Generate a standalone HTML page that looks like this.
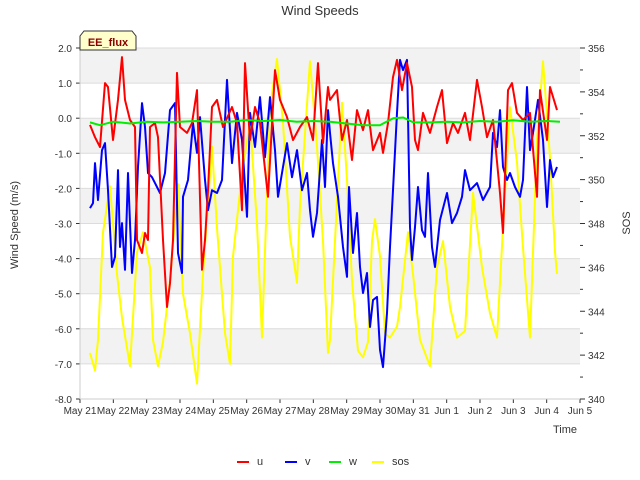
<!DOCTYPE html>
<html><head><meta charset="utf-8"><style>
body{margin:0;background:#fff;font-family:"Liberation Sans",sans-serif}
svg{display:block}
</style></head><body>
<svg id="c" width="640" height="480" font-family="Liberation Sans, sans-serif">
<g id="bands"></g><g id="axes"></g><g id="series"></g>
<text x="320" y="15" text-anchor="middle" font-size="13" fill="#333">Wind Speeds</text>
<text x="565" y="433" text-anchor="middle" font-size="11" fill="#333">Time</text>
<text transform="translate(18,225) rotate(-90)" text-anchor="middle" font-size="11" fill="#333">Wind Speed (m/s)</text>
<text transform="translate(630,223) rotate(-90)" text-anchor="middle" font-size="11" fill="#333">SOS</text>
<g>
<path d="M80,50 L80,36 L84,31 L132,31 L136,36 L136,50 Z" fill="#ffffcc" stroke="#333" stroke-width="1"/>
<text x="108" y="46" text-anchor="middle" font-size="11" font-weight="bold" fill="#8b0000">EE_flux</text>
</g>
<g id="legend" font-size="11" fill="#333"></g>
</svg>
<script>
const xTickLabels=["May 21","May 22","May 23","May 24","May 25","May 26","May 27","May 28","May 29","May 30","May 31","Jun 1","Jun 2","Jun 3","Jun 4","Jun 5"];
const yTicks=[2,1,0,-1,-2,-3,-4,-5,-6,-7,-8];
const y2Ticks=[340,342,344,346,348,350,352,354,356];
const uT=[.30,.45,.60,.75,.84,.99,1.14,1.26,1.35,1.50,1.65,1.71,1.86,1.95,2.04,2.10,2.25,2.34,2.49,2.61,2.70,2.79,2.91,3.00,3.21,3.36,3.51,3.66,3.75,3.84,3.96,4.11,4.29,4.56,4.71,4.86,4.95,5.10,5.25,5.40,5.64,5.85,6.00,6.21,6.39,6.60,6.81,6.99,7.14,7.29,7.44,7.50,7.71,7.86,8.01,8.16,8.31,8.49,8.64,8.79,9.00,9.09,9.24,9.39,9.51,9.66,9.81,9.96,10.05,10.14,10.29,10.50,10.71,10.86,11.01,11.19,11.34,11.55,11.70,11.91,12.06,12.21,12.39,12.60,12.69,12.84,12.96,13.11,13.29,13.50,13.71,13.80,14.01,14.10,14.31];
const uV=[-0.19,-0.54,-0.82,1.0,0.89,-0.62,0.52,1.74,0.52,-0.05,-0.25,-3.47,-3.84,-3.27,-3.47,-0.25,-0.14,-0.54,-3.47,-5.38,-4.70,-3.47,1.29,-0.25,-0.42,-0.14,0.8,-4.32,-3.47,-2.05,0.32,0.52,-0.25,0.32,-0.14,-2.62,1.57,-0.62,0.32,-0.14,-2.24,1.37,0.52,0.03,-0.62,-0.25,0.03,-0.62,1.57,-0.71,0.89,0.52,0.8,-0.62,-0.05,-1.19,0.23,-0.34,0.23,-0.91,-0.42,-0.99,-0.14,1.17,1.66,0.8,1.57,0.89,-0.62,-0.91,0.15,-0.42,0.32,0.8,-0.71,-0.14,-0.42,0.15,-0.62,1.09,0.32,-0.54,-0.05,-2.13,-3.27,0.8,1.0,0.15,-0.05,0.15,-2.24,0.8,-0.62,0.89,0.23];
const vT=[.30,.39,.45,.54,.66,.75,.84,.96,1.05,1.14,1.20,1.26,1.35,1.44,1.56,1.65,1.74,1.86,1.95,2.04,2.16,2.25,2.40,2.55,2.70,2.85,2.94,3.06,3.09,3.24,3.39,3.51,3.60,3.75,3.84,3.96,4.11,4.26,4.41,4.56,4.71,4.86,5.01,5.10,5.25,5.40,5.55,5.70,5.85,5.94,6.06,6.21,6.36,6.51,6.66,6.81,6.90,6.99,7.11,7.26,7.35,7.44,7.50,7.59,7.74,7.89,8.01,8.07,8.19,8.31,8.40,8.49,8.61,8.70,8.79,8.91,9.00,9.09,9.21,9.30,9.39,9.51,9.60,9.69,9.81,9.90,9.96,10.05,10.14,10.26,10.35,10.44,10.56,10.65,10.80,11.01,11.16,11.31,11.46,11.55,11.70,11.91,12.09,12.30,12.39,12.51,12.60,12.69,12.81,12.90,13.05,13.20,13.29,13.41,13.50,13.59,13.74,13.89,14.01,14.10,14.19,14.31];
const vV=[-2.56,-2.42,-1.28,-2.33,-0.91,-0.71,-2.05,-4.24,-3.95,-1.48,-3.67,-2.99,-4.32,-1.56,-4.41,-3.47,-1.39,0.43,-0.25,-1.56,-1.68,-1.85,-2.13,-1.56,0.23,0.43,-3.84,-4.41,-2.24,-1.76,-0.14,-0.99,0.03,-1.76,-2.62,-2.05,-2.13,-1.76,1.09,-1.28,0.15,-0.62,-2.81,0.15,-0.82,0.6,-1.11,0.6,-0.91,-2.24,-1.56,-0.71,-1.68,-0.91,-2.05,-1.56,-2.62,-3.38,-2.70,-0.62,-1.96,0.23,-0.42,-1.28,-2.24,-3.67,-4.52,-1.96,-3.84,-2.70,-4.24,-4.98,-4.41,-5.95,-5.18,-5.09,-6.60,-7.09,-5.55,-3.67,-2.05,0.15,1.66,1.37,1.66,-3.10,-4.04,-3.10,-1.96,-3.19,-3.38,-1.56,-3.67,-4.24,-2.90,-2.13,-2.99,-2.70,-2.24,-1.48,-2.05,-1.85,-2.33,-1.96,-0.42,-0.82,0.23,-1.39,-1.76,-1.56,-1.96,-2.24,-1.76,0.89,-0.91,-0.42,0.52,-0.62,-2.53,-1.19,-1.68,-1.39];
const wT=[.3,.6,1,1.5,2,2.5,3,3.5,4,4.5,5,5.5,6,6.5,7,7.5,8,8.5,9,9.4,9.7,10,10.5,11,11.5,12,12.5,13,13.5,14,14.4];
const wV=[-0.12,-0.2,-0.1,-0.15,-0.1,-0.12,-0.1,-0.08,-0.1,-0.1,-0.05,-0.08,-0.05,-0.1,-0.08,-0.1,-0.15,-0.2,-0.2,0.0,0.02,-0.12,-0.12,-0.1,-0.12,-0.08,-0.1,-0.06,-0.1,-0.08,-0.1];
const sT=[.30,.45,.54,.69,.90,1.11,1.26,1.50,1.71,1.89,2.10,2.19,2.34,2.49,2.70,2.94,3.09,3.30,3.51,3.69,3.96,4.11,4.35,4.50,4.59,4.86,5.10,5.31,5.46,5.70,5.91,6.09,6.30,6.51,6.60,6.90,7.11,7.29,7.44,7.50,7.65,7.86,8.01,8.16,8.34,8.49,8.64,8.76,8.85,9.00,9.15,9.30,9.51,9.60,9.84,9.99,10.20,10.50,10.71,10.89,11.10,11.31,11.55,11.79,12.06,12.30,12.51,12.69,12.90,13.11,13.29,13.50,13.71,13.89,14.10,14.25,14.31];
const sV=[342.1,341.3,342.7,347.6,349.7,345.7,343.7,341.5,346.7,347.6,346.0,342.7,341.5,342.6,345.4,349.8,344.8,343.0,340.7,345.7,351.5,347.8,343.0,341.6,346.5,350.3,352.6,348.0,342.8,353.3,355.5,352.6,347.4,345.3,348.8,355.4,351.5,347.2,342.1,342.7,347.2,353.5,350.0,345.4,342.2,341.9,342.6,347.2,348.2,346.5,343.0,342.8,343.3,344.2,347.6,345.7,342.7,341.5,346.0,347.2,344.2,342.8,343.1,349.4,346.0,343.9,342.8,347.8,353.3,350.8,346.9,342.8,351.8,355.4,351.0,346.7,345.7];

const X0=80,X1=580,Y0=48,Y1=399;
const xs=t=>X0+t*(X1-X0)/15;
const ys=v=>Y0+(2-v)*(Y1-Y0)/10;
const ys2=s=>Y0+(356-s)*(Y1-Y0)/16;
const NS="http://www.w3.org/2000/svg";
function mk(tag,attrs,parent){const e=document.createElementNS(NS,tag);for(const k in attrs)e.setAttribute(k,attrs[k]);parent.appendChild(e);return e;}
const bands=document.getElementById('bands'),axes=document.getElementById('axes'),series=document.getElementById('series'),legend=document.getElementById('legend');
for(let i=0;i<yTicks.length-1;i++){
  if(i%2===0&&yTicks[i]>-8){const r=mk('rect',{x:X0,y:ys(yTicks[i]),width:X1-X0,height:ys(yTicks[i+1])-ys(yTicks[i]),fill:'#f2f2f2'},bands);
  
  }
}
yTicks.forEach(v=>{
  const l=mk('line',{x1:X0,x2:X1,y1:ys(v),y2:ys(v),stroke:'#dcdcdc','stroke-width':1},bands);
  
  
  mk('line',{x1:X0-4,x2:X0,y1:ys(v),y2:ys(v),stroke:'#333'},axes);
  const t=mk('text',{x:X0-8,y:ys(v)+4,'text-anchor':'end','font-size':10,fill:'#333'},axes);
  t.textContent=v.toFixed(1);
  
  
});
for(let s=340;s<=356;s++){mk('line',{x1:X1,x2:X1+(s%2===0?5:3),y1:ys2(s),y2:ys2(s),stroke:'#333'},axes);}
y2Ticks.forEach(s=>{
  const t=mk('text',{x:X1+8,y:ys2(s)+4,'font-size':10,fill:'#333'},axes);
  t.textContent=s;
  
  
});
xTickLabels.forEach((lab,i)=>{
  mk('line',{x1:xs(i),x2:xs(i),y1:Y1,y2:Y1+4,stroke:'#333'},axes);
  const t=mk('text',{x:xs(i),y:Y1+15,'text-anchor':'middle','font-size':10,fill:'#333'},axes);
  t.textContent=lab;
  
  
});
mk('line',{x1:X0,x2:X0,y1:Y0,y2:Y1,stroke:'#ccc'},axes);
mk('line',{x1:X0,x2:X1,y1:Y1,y2:Y1,stroke:'#ccc'},axes);
function line(T,V,yf,color,name){
  const d=T.map((t,i)=>(i?'L':'M')+xs(t).toFixed(1)+','+yf(V[i]).toFixed(1)).join('');
  const p=mk('path',{d:d,fill:'none',stroke:color,'stroke-width':2,'stroke-linejoin':'round'},series);
  
  
}
line(sT,sV,ys2,'#ffff00','sos-line');
line(vT,vV,ys,'#0000ff','v-line');
line(uT,uV,ys,'#ff0000','u-line');
line(wT,wV,ys,'#00ee00','w-line');
const legItems=[['u','#ff0000',237],['v','#0000ff',285],['w','#00ee00',329],['sos','#ffff00',372]];
legItems.forEach(([n,c,x])=>{
  const g=mk('g',{},legend);
  
  
  mk('line',{x1:x,x2:x+12,y1:462,y2:462,stroke:c,'stroke-width':2},g);
  const t=mk('text',{x:x+20,y:465},g);t.textContent=n;
});
</script>
</body></html>
